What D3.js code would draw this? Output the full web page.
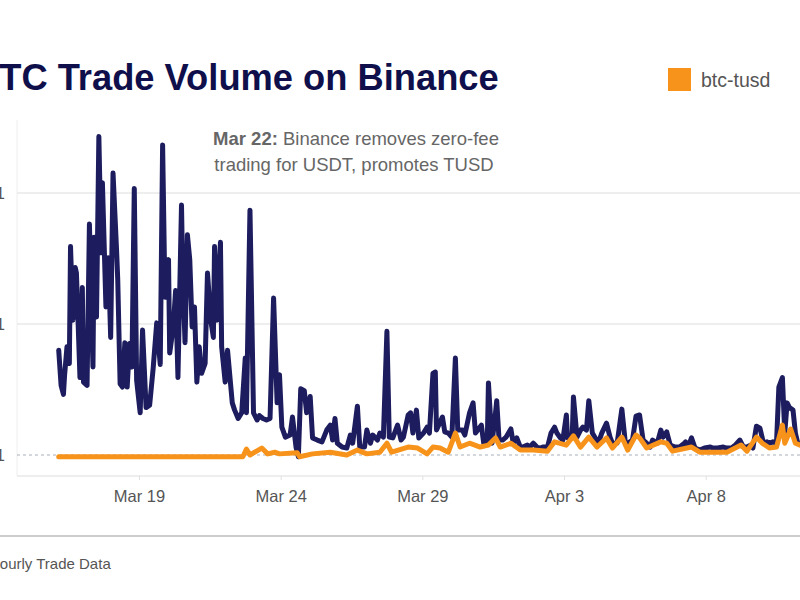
<!DOCTYPE html>
<html><head><meta charset="utf-8">
<script src="https://cdn.jsdelivr.net/npm/d3@7"></script>
<style>
body{margin:0;background:#fff}
svg{display:block;font-family:"Liberation Sans",Arial,Helvetica,sans-serif}
</style></head>
<body><svg id="c" width="800" height="600"></svg>
<script>
// ---- data (hours since Mar 16 2023 00:00, volume) ----
const seriesNames = ["btc-usdt", "btc-tusd"];
const xTickDates = ["2023-03-19", "2023-03-24", "2023-03-29", "2023-04-03", "2023-04-08"];
const yTickValues = [0.01, 0.1, 1];
const yTickLabels = ["0.01", "0.1", "1"];

const usdtHours = [4,6,8,9,11,13,14,16,18,19,22,24,25,28,30,33,34,36,38,40,41,44,46,48,50,53,54,56,58,60,62,64,66,68,70,73,75,78,81,84,87,90,92,94,97,98,101,103,105,108,109,111,113,115,117,119,121,123,125,128,130,133,135,136,138,141,142,145,147,151,153,156,159,162,163,166,169,172,174,177,180,183,186,189,191,193,196,200,202,205,207,209,212,214,217,219,223,227,231,234,236,238,240,244,248,251,253,257,259,263,265,268,270,274,276,279,282,284,287,291,294,296,300,302,304,307,309,313,316,318,321,323,324,329,331,334,337,340,342,346,348,352,355,357,359,362,364,367,368,371,374,375,377,380,383,387,389,392,395,397,401,403,406,409,412,414,418,421,424,426,429,431,434,435,439,440,443,446,448,451,453,456,458,461,464,468,471,473,477,481,484,486,490,493,496,499,502,505,507,511,514,516,519,522,526,530,534,535,537,540,543,547,551,556,558,562,567,570,574,577,581,584,587,590,592,595,598,601,604,606,609,612,614,617,619,621,623,626,628,630,634];
const usdtVolume = [0.063,0.034,0.029,0.041,0.067,0.050,0.39,0.107,0.27,0.245,0.039,0.19,0.036,0.034,0.58,0.047,0.46,0.113,2.7,0.35,1.2,0.135,0.32,0.079,1.42,0.367,0.217,0.035,0.033,0.072,0.033,0.071,0.047,1.08,0.037,0.021,0.09,0.023,0.024,0.046,0.102,0.049,2.33,0.16,0.31,0.06,0.095,0.18,0.039,0.81,0.245,0.072,0.48,0.31,0.095,0.135,0.036,0.067,0.042,0.05,0.245,0.104,0.079,0.39,0.107,0.42,0.067,0.036,0.063,0.025,0.022,0.019,0.021,0.055,0.021,0.74,0.021,0.0185,0.020,0.019,0.0185,0.019,0.158,0.025,0.041,0.0163,0.0137,0.0142,0.0195,0.0115,0.0097,0.032,0.031,0.021,0.028,0.0135,0.013,0.0126,0.0155,0.0169,0.013,0.019,0.0123,0.0115,0.0113,0.0142,0.0123,0.0236,0.0115,0.0115,0.0155,0.0123,0.0142,0.013,0.0147,0.0137,0.088,0.0137,0.0135,0.0169,0.013,0.0137,0.0202,0.021,0.0147,0.022,0.0135,0.0147,0.0163,0.0147,0.042,0.043,0.0155,0.0195,0.015,0.0147,0.0137,0.055,0.0155,0.0155,0.0142,0.021,0.025,0.0147,0.0155,0.0169,0.0123,0.0123,0.0355,0.0123,0.021,0.026,0.013,0.013,0.0137,0.0158,0.0123,0.0135,0.0115,0.0115,0.0119,0.0115,0.0123,0.0115,0.0113,0.0115,0.0115,0.0147,0.0163,0.0147,0.0135,0.013,0.0202,0.0135,0.0142,0.0277,0.0137,0.0155,0.0163,0.0155,0.026,0.0147,0.0137,0.0123,0.0147,0.0175,0.0137,0.0123,0.0123,0.0224,0.0123,0.0123,0.013,0.0198,0.0202,0.013,0.0123,0.0115,0.013,0.0123,0.0155,0.0137,0.015,0.0119,0.0115,0.0115,0.0123,0.0126,0.0115,0.0135,0.0113,0.0109,0.0113,0.0115,0.0113,0.0113,0.0115,0.0113,0.0113,0.0119,0.013,0.0115,0.0115,0.0119,0.0113,0.0166,0.016,0.0123,0.0126,0.0123,0.0126,0.0123,0.033,0.039,0.0147,0.025,0.023,0.022,0.0147,0.0123,0.0119];

const tusdHours = [4,160,163,166,176,181,187,191,206,208,219,234,248,257,265,276,282,286,300,308,316,321,327,334,340,344,352,361,368,374,378,387,395,406,418,424,434,440,446,453,460,468,473,481,486,493,496,502,514,519,524,540,547,558,570,582,587,595,600,606,612,617,619,624,628,632];
const tusdVolume = [0.0097,0.0097,0.0111,0.0100,0.0113,0.0102,0.0105,0.0102,0.0104,0.0097,0.0102,0.0105,0.0100,0.0109,0.0102,0.0105,0.0123,0.0105,0.0115,0.0113,0.0102,0.0115,0.0113,0.0105,0.0147,0.0115,0.0123,0.0115,0.0119,0.0135,0.0115,0.0123,0.0109,0.0109,0.0107,0.0126,0.0119,0.0140,0.0115,0.0137,0.0115,0.0135,0.0113,0.0137,0.0109,0.0142,0.0135,0.0113,0.0126,0.0123,0.0107,0.0115,0.0105,0.0105,0.0105,0.0119,0.0107,0.0137,0.0123,0.0113,0.0115,0.0169,0.0123,0.0158,0.0123,0.0119];

// ---- chart ----
const svg = d3.select("#c");
const start = new Date(2023, 2, 16, 0, 0);
const toDate = h => new Date(start.getTime() + h * 3600e3);
const parse = d3.timeParse("%Y-%m-%d");

const plotLeft = 17, plotTop = 120, plotBottom = 476, plotRight = 800;
const x = d3.scaleTime().domain([start, new Date(2023, 3, 12)]).range([54, 819]);
const y = d3.scaleLog().domain([0.01, 1]).range([455, 193]);

// title
svg.append("text").attr("x", -27).attr("y", 90)
  .attr("font-size", 36.3).attr("font-weight", "bold").attr("fill", "#0f0f4b")
  .text("BTC Trade Volume on Binance");

// legend
svg.append("rect").attr("x", 668).attr("y", 68).attr("width", 23).attr("height", 23).attr("fill", "#f7931a");
svg.append("text").attr("x", 701).attr("y", 87).attr("font-size", 19.5).attr("fill", "#555")
  .text(seriesNames[1]);

// axis frame
svg.append("line").attr("x1", plotLeft).attr("x2", plotLeft).attr("y1", plotTop).attr("y2", plotBottom)
  .attr("stroke", "#eeeeee").attr("stroke-width", 1);
svg.append("line").attr("x1", plotLeft).attr("x2", plotRight).attr("y1", plotBottom).attr("y2", plotBottom)
  .attr("stroke", "#e8e8e8").attr("stroke-width", 1.5);

// y grid + labels
yTickValues.forEach((v, i) => {
  const yy = y(v);
  if (i === 0) {
    svg.append("line").attr("x1", plotLeft).attr("x2", plotRight).attr("y1", yy).attr("y2", yy)
      .attr("stroke", "#a9b0ba").attr("stroke-width", 1).attr("stroke-dasharray", "3,3");
  } else {
    svg.append("line").attr("x1", plotLeft).attr("x2", plotRight).attr("y1", yy).attr("y2", yy)
      .attr("stroke", "#e9e9e9").attr("stroke-width", 1.5);
  }
  svg.append("text").attr("x", 5).attr("y", yy + 6).attr("text-anchor", "end")
    .attr("font-size", 17).attr("fill", "#555").text(yTickLabels[i]);
});

// x axis
const xTicks = xTickDates.map(parse);
const fmt = d3.timeFormat("%b %-d");
const xAxis = svg.append("g").attr("transform", `translate(0,${plotBottom})`)
  .call(d3.axisBottom(x).tickValues(xTicks).tickFormat(fmt).tickSize(4).tickPadding(10));
xAxis.select(".domain").remove();
xAxis.selectAll(".tick line").attr("stroke", "#e0e0e0");
xAxis.selectAll(".tick text").attr("font-size", 16.5).attr("fill", "#555")
  .attr("font-family", "Liberation Sans, Arial, sans-serif");

// lines
const usdt = usdtHours.map((h, i) => ({ t: toDate(h), v: usdtVolume[i] }));
const tusd = tusdHours.map((h, i) => ({ t: toDate(h), v: tusdVolume[i] }));
const line = d3.line().x(d => x(d.t)).y(d => y(d.v)).curve(d3.curveLinear);

svg.append("path").datum(usdt).attr("d", line).attr("fill", "none")
  .attr("stroke", "#1c1c5e").attr("stroke-width", 5).attr("stroke-linejoin", "round").attr("stroke-linecap", "round");
svg.append("path").datum(tusd).attr("d", line).attr("fill", "none")
  .attr("stroke", "#f7931a").attr("stroke-width", 5).attr("stroke-linejoin", "round").attr("stroke-linecap", "round");

// annotation
const ann = svg.append("text").attr("text-anchor", "middle").attr("font-size", 18.5).attr("fill", "#666");
const l1 = ann.append("tspan").attr("x", 356).attr("y", 145);
l1.append("tspan").attr("font-weight", "bold").text("Mar 22:");
l1.append("tspan").text(" Binance removes zero-fee");
ann.append("tspan").attr("x", 354).attr("y", 171).text("trading for USDT, promotes TUSD");

// footer
svg.append("line").attr("x1", 0).attr("x2", 800).attr("y1", 536).attr("y2", 536)
  .attr("stroke", "#cccccc").attr("stroke-width", 2);
svg.append("text").attr("x", -11).attr("y", 569).attr("font-size", 15).attr("fill", "#555")
  .text("Hourly Trade Data");
</script></body></html>
